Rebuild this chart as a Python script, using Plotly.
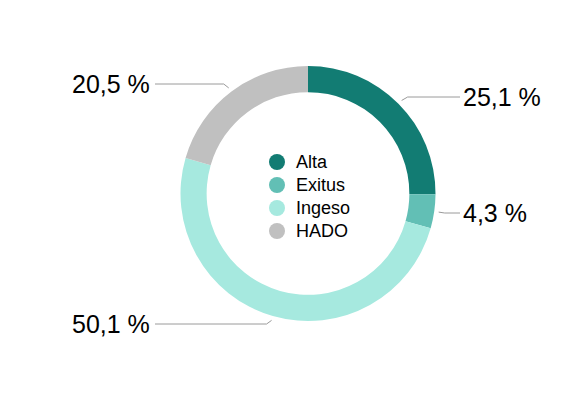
import math
import plotly.graph_objects as go

categories = ["Alta", "Exitus", "Ingeso", "HADO"]
values = [25.1, 4.3, 50.1, 20.5]
colors = ["#127c73", "#62bfb5", "#a6e9df", "#c0c0c0"]

W, H = 579, 405
cx, cy, R = 308, 193.5, 127.5
label_y = [97, 213, 324, 84]
legend_x, legend_y0, legend_dy = 277, 162, 23

fig = go.Figure()
fig.add_trace(go.Pie(
    labels=categories, values=values, sort=False, direction="clockwise",
    rotation=0, hole=0.795, textinfo="none", hoverinfo="label+percent",
    marker=dict(colors=colors, line=dict(width=0)), showlegend=False,
    domain=dict(x=[(cx - R) / W, (cx + R) / W], y=[1 - (cy + R) / H, 1 - (cy - R) / H]),
))


def px(x):
    return x / W


def py(y):
    return 1 - y / H


font_family = "Liberation Sans, Arial, Helvetica"
total = sum(values)
cum = 0
shapes, annotations = [], []
for v, ly in zip(values, label_y):
    mid = (cum + v / 2) / total * 2 * math.pi
    cum += v
    sx = cx + (R + 4.5) * math.sin(mid)
    sy = cy - (R + 4.5) * math.cos(mid)
    right = math.sin(mid) > 0
    ex = sx + (6 if right else -5)
    endx = 460 if right else 155
    shapes.append(dict(type="path", xref="paper", yref="paper",
                       path=f"M {px(sx)} {py(sy)} L {px(ex)} {py(ly)} L {px(endx)} {py(ly)}",
                       line=dict(color="#9a9a9a", width=1)))
    txt = f"{v:.1f}".replace(".", ",") + " %"
    annotations.append(dict(xref="paper", yref="paper", x=px(endx + (1 if right else -3)), y=py(ly),
                            xanchor="left" if right else "right", yanchor="middle",
                            text=txt, showarrow=False,
                            font=dict(size=25, color="#000000", family=font_family)))

# legend drawn as circles + text
for i, (c, col) in enumerate(zip(categories, colors)):
    yy = legend_y0 + i * legend_dy
    r = 8
    shapes.append(dict(type="circle", xref="paper", yref="paper",
                       x0=px(legend_x - r), x1=px(legend_x + r), y0=py(yy + r), y1=py(yy - r),
                       fillcolor=col, line=dict(width=0)))
    annotations.append(dict(xref="paper", yref="paper", x=px(legend_x + 17), y=py(yy),
                            xanchor="left", yanchor="middle", text=c, showarrow=False,
                            font=dict(size=18, color="#000000", family=font_family)))

fig.update_layout(
    width=W, height=H, margin=dict(l=0, r=0, t=0, b=0),
    paper_bgcolor="white", plot_bgcolor="white",
    shapes=shapes, annotations=annotations, showlegend=False,
)
fig.write_html("out.html", config={"displayModeBar": False},
               post_script="document.body.style.margin='0';")
